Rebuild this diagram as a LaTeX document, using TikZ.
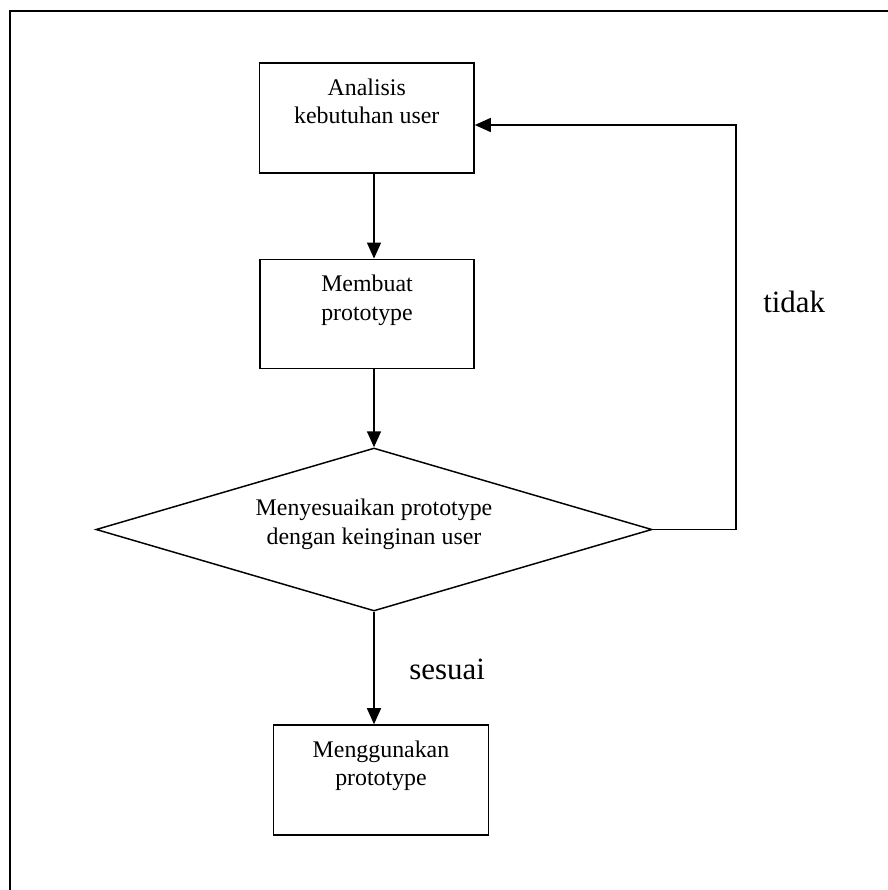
\documentclass[tikz,border=0pt]{standalone}
\usepackage{fontspec}
\setmainfont{Liberation Serif}
\usetikzlibrary{arrows.meta,shapes.geometric}
\begin{document}
\begin{tikzpicture}[x=0.75pt,y=-0.75pt,
  boxshape/.style={draw,line width=1.15pt,rectangle,inner sep=0pt},
  diashape/.style={draw,line width=1.1pt,diamond,inner sep=0pt,minimum width=417pt,minimum height=122.25pt},
  txt/.style={inner sep=0pt,align=center,font=\fontsize{17.9}{21.2}\selectfont},
  bigtxt/.style={inner sep=0pt,font=\fontsize{23.2}{27}\selectfont},
  flow/.style={line width=1.1pt,-{Triangle[length=12pt,width=10.5pt]}},
  frameline/.style={line width=1.2pt}]
\useasboundingbox (0,0) rectangle (888,890);
% frame
\draw[frameline] (10,890) -- (10,11) -- (888,11);
% boxes
\node[boxshape,minimum width=160.9pt,minimum height=82.5pt] (b1) at (366.75,118) {};
\node[boxshape,minimum width=160.5pt,minimum height=81.75pt] (b2) at (367,313.8) {};
\node[diashape] (dia) at (374,529.5) {};
\node[boxshape,minimum width=161.5pt,minimum height=82.5pt] (b3) at (381,780) {};
% texts
\node[txt,anchor=north] (t1) at ([yshift=-12.4pt]b1.north) {Analisis\\kebutuhan user};
\node[txt,anchor=north] (t2) at ([yshift=-12.4pt]b2.north) {Membuat\\prototype};
\node[txt,anchor=north] (t3) at ([yshift=22.9pt]dia.center) {Menyesuaikan prototype\\dengan keinginan user};
\node[txt,anchor=north] (t4) at ([yshift=-12.4pt]b3.north) {Menggunakan\\prototype};
\node[bigtxt,anchor=base west] (tidak) at (763,312) {tidak};
\node[bigtxt,anchor=base west] (sesuai) at (409,679) {sesuai};
% connectors
\draw[flow] (dia.north |- b1.south) -- (dia.north |- b2.north);
\draw[flow] (dia.north |- b2.south) -- (dia.north);
\draw[flow] (dia.south) -- (dia.south |- b3.north);
\coordinate (c1) at (736,529.5);
\coordinate (c2) at (736,125);
\draw[flow] (dia.east) -- (c1) -- (c2) -- (b1.east |- c2);
\end{tikzpicture}
\end{document}
